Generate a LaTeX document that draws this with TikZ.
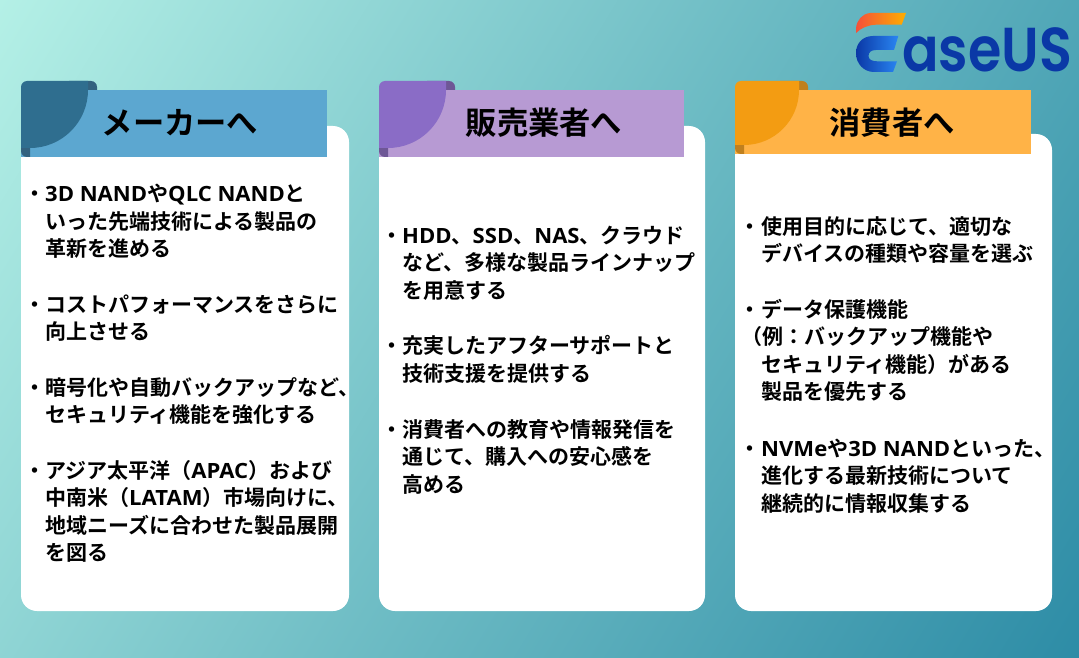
\documentclass[tikz,border=0pt]{standalone}
\usepackage{fontspec}
\setmainfont{Noto Sans CJK JP}[BoldFont={Noto Sans CJK JP Bold}]
\newfontfamily\latf{Open Sans}[BoldFont={Open Sans Bold},FakeStretch=1.05]
\newfontfamily\logofont{Poppins}[BoldFont={Poppins SemiBold},FakeStretch=0.87]
\newcommand{\lat}[1]{{\latf\bfseries #1}}
\definecolor{bgA}{HTML}{B4F0E6}
\definecolor{bgB}{HTML}{6FBDC5}
\definecolor{bgC}{HTML}{2D8CA6}
\definecolor{hBlue}{HTML}{5CA7D0}
\definecolor{dBlue}{HTML}{2F6E8F}
\definecolor{fBlue}{HTML}{33627F}
\definecolor{hPurple}{HTML}{B79AD3}
\definecolor{dPurple}{HTML}{8A6CC6}
\definecolor{fPurple}{HTML}{6E5796}
\definecolor{hOrange}{HTML}{FFB347}
\definecolor{dOrange}{HTML}{F39C12}
\definecolor{fOrange}{HTML}{C0801E}
\definecolor{logoBlue}{HTML}{0A38A6}
\definecolor{logoLight}{HTML}{2A86F2}
\definecolor{swooshA}{HTML}{F4503A}
\definecolor{swooshB}{HTML}{FFAE00}
\pgfdeclarehorizontalshading{bgshade}{100bp}{color(0bp)=(bgA); color(25bp)=(bgA); color(50bp)=(bgB); color(75bp)=(bgC); color(100bp)=(bgC)}
\tikzset{
  x=1pt,y=-1pt,
  card/.style={fill=white,rounded corners=16pt},
  titletext/.style={font=\fontsize{31.3}{31.3}\selectfont\bfseries,anchor=base,inner sep=0pt,text=black},
  bodytext/.style={font=\fontsize{21}{21}\selectfont\bfseries,anchor=base west,inner sep=0pt,text=black},
}
\newcommand{\txtline}[4]{\node[bodytext] (#1) at (#2,#3+7.8) {#4};}
\newcommand{\headerbox}[7]{%
  % #1 x, #2 header right, #3 header bottom, #4 header col, #5 dark col, #6 fold col, #7 radius
  \fill[#6] (#1+#7-10,81) [rounded corners=6pt] -- (#1+#7+18,81) [sharp corners] -- (#1+#7+18,90) -- (#1+#7-10,90) -- cycle;
  \fill[#4] (#1,90) rectangle (#2,#3);
  \fill[#6] (#1,#3-20) [rounded corners=6pt] -- (#1,#3) [sharp corners] -- (#1+9,#3) -- (#1+9,#3-20) -- cycle;
  \fill[#5] (#1,#3-9) [rounded corners=6pt] -- (#1,81) [sharp corners] -- (#1+#7+9,81) -- (#1+#7+9,90)
     .. controls (#1+#7+9,90+0.552*#7) and (#1+9+0.552*#7,#3-9) .. (#1+9,#3-9) -- cycle;
}
\begin{document}
\begin{tikzpicture}
\useasboundingbox (0,0) rectangle (1079,658);
\begin{scope}
\clip (0,0) rectangle (1079,658);
\begin{scope}[transform canvas={rotate around={-31.4:(539.5,329)}}]
\shade[shading=bgshade] (539.5-632,329-700) rectangle (539.5+632,329+700);
\end{scope}
\end{scope}
% cards
\fill[card] (21,126) rectangle (349,611);
\fill[card] (379,126) rectangle (705,611);
\fill[card] (735,134) rectangle (1052,611);
% headers
\headerbox{21}{327}{157}{hBlue}{dBlue}{fBlue}{58}
\headerbox{379}{684}{157}{hPurple}{dPurple}{fPurple}{58}
\headerbox{735}{1031}{154}{hOrange}{dOrange}{fOrange}{55}
\node[titletext] (t1) at (180,135) {メーカーへ};
\node[titletext] (t2) at (544,135) {販売業者へ};
\node[titletext] (t3) at (892,135) {消費者へ};
% column 1
\node[bodytext] (b11) at (24,201.8) {・};
\txtline{a1}{45}{194}{\lat{3D NAND}や\lat{QLC NAND}と}
\txtline{a2}{45}{222}{いった先端技術による製品の}
\txtline{a3}{45}{249}{革新を進める}
\node[bodytext] (b12) at (24,312.8) {・};
\txtline{a4}{45}{305}{コストパフォーマンスをさらに}
\txtline{a5}{45}{332}{向上させる}
\node[bodytext] (b13) at (24,395.8) {・};
\txtline{a6}{45}{388}{暗号化や自動バックアップなど、}
\txtline{a7}{45}{415}{セキュリティ機能を強化する}
\node[bodytext] (b14) at (24,478.8) {・};
\txtline{a8}{45}{471}{アジア太平洋（\lat{APAC}）および}
\txtline{a9}{45}{498}{中南米（\lat{LATAM}）市場向けに、}
\txtline{a10}{45}{526}{地域ニーズに合わせた製品展開}
\txtline{a11}{45}{553}{を図る}
% column 2
\node[bodytext] (b21) at (381,243.8) {・};
\txtline{c1}{402}{236}{\lat{HDD}、\lat{SSD}、\lat{NAS}、クラウド}
\txtline{c2}{402}{263}{など、多様な製品ラインナップ}
\txtline{c3}{402}{291}{を用意する}
\node[bodytext] (b22) at (381,353.8) {・};
\txtline{c4}{402}{346}{充実したアフターサポートと}
\txtline{c5}{402}{374}{技術支援を提供する}
\node[bodytext] (b23) at (381,437.8) {・};
\txtline{c6}{402}{430}{消費者への教育や情報発信を}
\txtline{c7}{402}{457}{通じて、購入への安心感を}
\txtline{c8}{402}{485}{高める}
% column 3
\node[bodytext] (b31) at (739,234.8) {・};
\txtline{e1}{761}{227}{使用目的に応じて、適切な}
\txtline{e2}{761}{254}{デバイスの種類や容量を選ぶ}
\node[bodytext] (b32) at (739,317.8) {・};
\txtline{e3}{761}{310}{データ保護機能}
\txtline{e4}{741}{337}{（例：バックアップ機能や}
\txtline{e5}{761}{365}{セキュリティ機能）がある}
\txtline{e6}{761}{392}{製品を優先する}
\node[bodytext] (b33) at (739,456.8) {・};
\txtline{e7}{761}{449}{\lat{NVMe}や\lat{3D NAND}といった、}
\txtline{e8}{761}{476}{進化する最新技術について}
\txtline{e9}{761}{504}{継続的に情報収集する}
% logo
\shade[left color=swooshA,right color=swooshB]
  (906,13) -- (870,13) .. controls (862,14) and (857,20) .. (856,28) -- (856,33) .. controls (861,28) and (868,25) .. (876,24.7) -- (901.7,24.7) -- cycle;
\shade[left color=logoBlue,right color=logoLight]
  (898.3,36) -- (873,36) .. controls (862,36) and (856,44) .. (856,53) .. controls (856,64) and (864,72) .. (874,72) -- (893,72) -- (897,61.3) -- (877,61.3) .. controls (872,61.3) and (868.5,59.5) .. (868.5,56) .. controls (868.5,52.5) and (871,50) .. (876,50) -- (894,50) -- cycle;
\node[font=\logofont\bfseries\fontsize{62}{62}\selectfont,text=logoBlue,anchor=base west,inner sep=0pt] (logo) at (902,72) {aseUS};
\end{tikzpicture}
\end{document}
